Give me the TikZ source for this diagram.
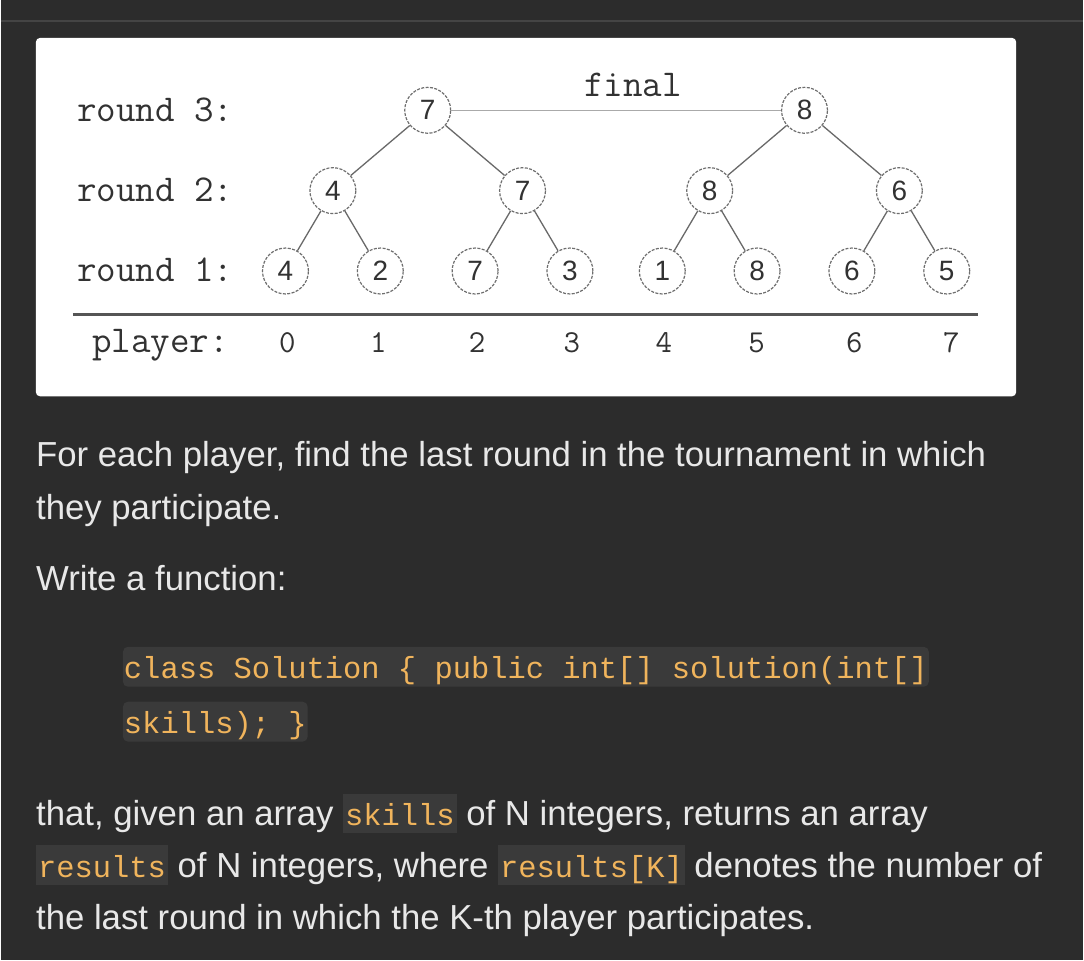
\documentclass[tikz,border=0pt]{standalone}
\usepackage{fontspec}
\setmainfont{Liberation Sans}
\newfontfamily\codefont{Liberation Mono}
\usepackage{tikz}
\usetikzlibrary{positioning}
\definecolor{pagebg}{RGB}{44,44,44}
\definecolor{toprule}{RGB}{68,68,68}
\definecolor{codebg}{RGB}{58,58,58}
\definecolor{codeorange}{RGB}{240,180,92}
\definecolor{bodytext}{RGB}{232,232,232}
\definecolor{inkgray}{RGB}{50,50,50}
\definecolor{circgray}{RGB}{110,110,110}
\definecolor{edgegray}{RGB}{105,105,105}
\newcommand\inlinecode[1]{{\setlength\fboxsep{0pt}\colorbox{codebg}{\hspace{2pt}\rule[-8pt]{0pt}{40pt}\codefont\fontsize{30.5}{36}\selectfont\color{codeorange}#1\hspace{2pt}}}}
\tikzset{
  tnode/.style = {circle, draw=circgray, dash pattern=on 3pt off 1.4pt,
    line width=1.2pt, minimum size=46pt, inner sep=0pt, text=inkgray,
    font=\fontsize{28}{28}\selectfont},% match circle
  roundlbl/.style = {anchor=base west, inner sep=0pt, text=inkgray,
    font=\ttfamily\fontsize{38}{40}\selectfont},% row label
  pnum/.style = {anchor=base, inner sep=0pt, text=inkgray,
    font=\ttfamily\fontsize{32}{32}\selectfont},% player index
  bodyline/.style = {anchor=base west, inner sep=0pt, text=bodytext,
    font=\fontsize{34.8}{40}\selectfont},
  codeline/.style = {anchor=base west, fill=codebg, rounded corners=5pt,
    inner xsep=1pt, inner ysep=0pt, text height=32pt, text depth=8pt,
    text=codeorange, font=\codefont\fontsize{30.5}{36}\selectfont}
}
\begin{document}
\begin{tikzpicture}[x=1pt, y=-1pt, level distance=80.5pt,
    level/.style={sibling distance=190pt/#1},
    edge from parent/.style={draw=edgegray, line width=1.3pt}]
        \fill[pagebg] (0,0) rectangle (1084,962);
        \draw[toprule, line width=2pt] (0,21.5) -- (1084,21.5);
        \fill[white, rounded corners=4pt] (35,38) rectangle (1017,397);

        \node [roundlbl] (r3) at (76,122) {round 3:};
        \node [roundlbl] (r2) at (76,202) {round 2:};
        \node [roundlbl] (r1) at (76,282) {round 1:};
        \node [roundlbl] (pl) at (91,353) {player:};

        \node [tnode] (w7) at (427.5,110.5) {7}
            child{ node [tnode] (s4) {4}
                    child{ node [tnode] (p0) {4} }
                    child{ node [tnode] (p1) {2} }
                }
            child{ node [tnode] (s7) {7}
                    child{ node [tnode] (p2) {7} }
                    child{ node [tnode] (p3) {3} }
                }
        ;
        \node [tnode] (w8) at (805,110.5) {8}
            child{ node [tnode] (s8) {8}
                    child{ node [tnode] (p4) {1} }
                    child{ node [tnode] (p5) {8} }
                }
            child{ node [tnode] (s6) {6}
                    child{ node [tnode] (p6) {6} }
                    child{ node [tnode] (p7) {5} }
                }
        ;
        \draw [draw={rgb,255:red,170;green,170;blue,170}, line width=1.3pt] (w7) -- (w8);
        \node [roundlbl, anchor=base] (fin) at (633,97) {final};

        \draw [draw={rgb,255:red,85;green,85;blue,85}, line width=3pt] (72,315) -- (979,315);
        \node [pnum] (n0) at (287,353) {0};
        \node [pnum] (n1) at (378,353) {1};
        \node [pnum] (n2) at (477,353) {2};
        \node [pnum] (n3) at (572,353) {3};
        \node [pnum] (n4) at (664,353) {4};
        \node [pnum] (n5) at (757,353) {5};
        \node [pnum] (n6) at (855,353) {6};
        \node [pnum] (n7) at (952,353) {7};

        \node [bodyline] (t1) at (35,467) {For each player, find the last round in the tournament in which};
        \node [bodyline] (t2) at (35,520) {they participate.};
        \node [bodyline] (t3) at (35,592) {Write a function:};
        \node [codeline] (c1) at (122,680) {class Solution \{ public int[] solution(int[]\hspace{25pt}};
        \node [codeline] (c2) at (122,735) {skills); \}};
        \node [bodyline] (t4) at (35,827) {that, given an array \inlinecode{skills} of N integers, returns an array};
        \node [bodyline] (t5) at (35,879) {\inlinecode{results} of N integers, where \inlinecode{results[K]} denotes the number of};
        \node [bodyline] (t6) at (35,931) {the last round in which the K-th player participates.};
\end{tikzpicture}
\end{document}
